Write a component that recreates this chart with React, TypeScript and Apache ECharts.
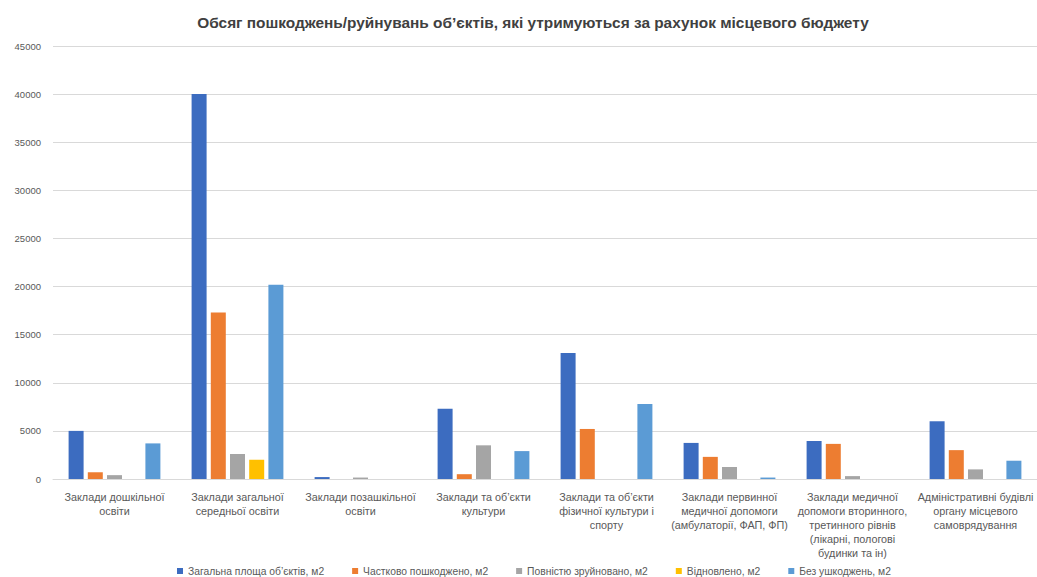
import React, { useEffect, useRef } from "react";
import * as echarts from "echarts";

const title = "Обсяг пошкоджень/руйнувань об’єктів, які утримуються за рахунок місцевого бюджету";

const categories = [
  "Заклади дошкільної\nосвіти",
  "Заклади загальної\nсередньої освіти",
  "Заклади позашкільної\nосвіти",
  "Заклади та об’єкти\nкультури",
  "Заклади та об’єкти\nфізичної культури і\nспорту",
  "Заклади первинної\nмедичної допомоги\n(амбулаторії, ФАП, ФП)",
  "Заклади медичної\nдопомоги вторинного,\nтретинного рівнів\n(лікарні, пологові\nбудинки та ін)",
  "Адміністративні будівлі\nоргану місцевого\nсамоврядування",
];

const seriesNames = [
  "Загальна площа об’єктів, м2",
  "Частково пошкоджено, м2",
  "Повністю зруйновано, м2",
  "Відновлено, м2",
  "Без ушкоджень, м2",
];

const totalArea = [5000, 40000, 200, 7300, 13100, 3750, 3950, 6000];
const partlyDamaged = [700, 17300, 0, 500, 5200, 2300, 3650, 3000];
const destroyed = [400, 2600, 150, 3500, 0, 1250, 300, 1000];
const restored = [0, 2000, 0, 0, 0, 0, 0, 0];
const undamaged = [3700, 20200, 0, 2900, 7800, 150, 0, 1900];

const colors = ["#3C6CC0", "#ED7D31", "#A5A5A5", "#FFC000", "#5B9BD5"];

const yTicks = { min: 0, max: 45000, interval: 5000 };

export default function App() {
  const ref = useRef<HTMLDivElement>(null);
  useEffect(() => {
    if (!ref.current) return;
    const chart = echarts.init(ref.current, undefined, { renderer: "svg" });
    const values = [totalArea, partlyDamaged, destroyed, restored, undamaged];
    chart.setOption({
      animation: false,
      backgroundColor: "#ffffff",
      textStyle: { fontFamily: "Liberation Sans, Arial, sans-serif" },
      title: {
        text: title,
        left: 533,
        textAlign: "center",
        top: 15,
        padding: 0,
        textStyle: { fontSize: 15.4, fontWeight: "bold", color: "#404040" },
      },
      legend: {
        top: 566,
        left: 177,
        padding: 0,
        itemWidth: 6,
        itemHeight: 6,
        itemGap: 28,
        icon: "rect",
        textStyle: { fontSize: 10.3, color: "#595959" },
        data: seriesNames,
      },
      grid: { left: 53, top: 46, height: 433, width: 1000 },
      xAxis: {
        type: "category",
        data: categories,
        axisTick: { show: false },
        axisLine: { lineStyle: { color: "#d9d9d9" } },
        axisLabel: {
          interval: 0,
          fontSize: 10.8,
          lineHeight: 14,
          color: "#595959",
          margin: 11,
        },
      },
      yAxis: {
        type: "value",
        min: yTicks.min,
        max: yTicks.max,
        interval: yTicks.interval,
        axisLine: { show: false },
        axisTick: { show: false },
        axisLabel: {
          fontSize: 9.5,
          color: "#595959",
          margin: 12,
          formatter: (v: number) => String(v),
        },
        splitLine: { lineStyle: { color: "#d9d9d9", width: 1 } },
      },
      series: seriesNames.map((name, i) => ({
        name,
        type: "bar",
        data: values[i],
        barWidth: 15,
        barGap: "28%",
        itemStyle: { color: colors[i] },
      })),
    });
    return () => chart.dispose();
  }, []);
  return (
    <div
      ref={ref}
      style={{ position: "absolute", left: 0, top: 0, width: 1037, height: 577 }}
    />
  );
}
